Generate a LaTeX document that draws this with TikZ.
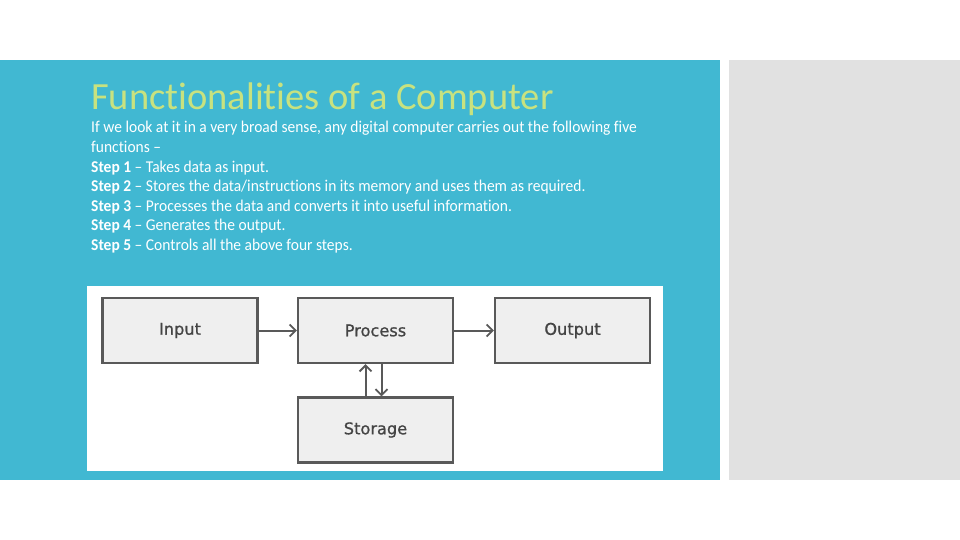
\documentclass[tikz,border=0pt]{standalone}
\usepackage{fontspec}
\setmainfont{Carlito}
\newfontfamily\titlefont[Ligatures={NoCommon}]{Carlito}
\newfontfamily\bodyfont[FakeStretch=0.94,Ligatures={NoCommon}]{Carlito}
\newfontfamily\boxfont[FakeBold=0.8]{DejaVu Sans}
\usetikzlibrary{arrows.meta}
\definecolor{panelblue}{HTML}{41B8D2}
\definecolor{panelgrey}{HTML}{E1E1E1}
\definecolor{titlegreen}{HTML}{C8E27F}
\definecolor{boxfill}{HTML}{EFEFEF}
\definecolor{boxline}{HTML}{595959}
\definecolor{boxtext}{HTML}{444444}
\tikzset{
  bodyline/.style={anchor=base west, inner sep=0pt, text=white, font=\bodyfont\fontsize{16.5}{18}\selectfont},
  blockbox/.style={draw=boxline, line width=2.4pt, fill=boxfill, minimum width=155pt, minimum height=65pt, inner sep=0pt, text=boxtext, font=\boxfont\fontsize{16.2}{18}\selectfont},
  flow/.style={draw=boxline, line width=2pt, -{Straight Barb[length=6pt,width=12pt,line width=1.8pt]}}
}
\begin{document}
\begin{tikzpicture}[x=1pt,y=-1pt]
\useasboundingbox (0,0) rectangle (960,540);
\fill[white] (0,0) rectangle (960,540);
\fill[panelblue] (0,60) rectangle (720,480);
\fill[panelgrey] (729,60) rectangle (960,480);
\node[anchor=base west, inner sep=0pt, text=titlegreen, font=\titlefont\fontsize{38.5}{40}\selectfont] (title) at (91,110) {Functionalities of a Computer};
\node[bodyline] (l1) at (91,133) {If we look at it in a very broad sense, any digital computer carries out the following five};
\node[bodyline] (l2) at (91,152.5) {functions –};
\node[bodyline] (l3) at (91,172) {\textbf{Step 1} – Takes data as input.};
\node[bodyline] (l4) at (91,191.5) {\textbf{Step 2} – Stores the data/instructions in its memory and uses them as required.};
\node[bodyline] (l5) at (91,211) {\textbf{Step 3} – Processes the data and converts it into useful information.};
\node[bodyline] (l6) at (91,230.5) {\textbf{Step 4} – Generates the output.};
\node[bodyline] (l7) at (91,250) {\textbf{Step 5} – Controls all the above four steps.};
\fill[white] (87,286) rectangle (663,471);
\node[blockbox] (input) at (180,330.5) {Input};
\node[blockbox] (process) at (375.5,330.5) {Process};
\node[blockbox] (output) at (572.5,330.5) {Output};
\node[blockbox] (storage) at (375.5,430) {Storage};
\draw[flow] (input) -- (process);
\draw[flow] (process) -- (output);
\draw[flow] ([xshift=-10pt]storage.north) -- ([xshift=-10pt]process.south);
\draw[flow] ([xshift=6pt]process.south) -- ([xshift=6pt]storage.north);
\end{tikzpicture}
\end{document}
